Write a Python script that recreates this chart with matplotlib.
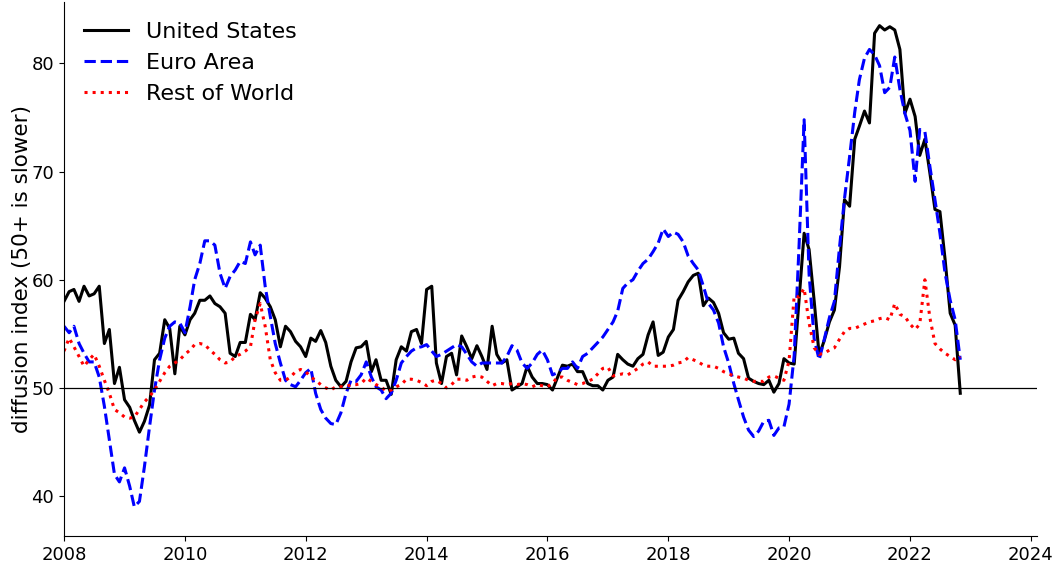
import matplotlib
matplotlib.use("Agg")
import matplotlib.pyplot as plt
import matplotlib.dates as mdates
import pandas as pd
import numpy as np

dates = pd.date_range("2008-01-01", periods=179, freq="MS")

united_states = [
    58.0, 58.9, 59.1, 58.0, 59.4, 58.5, 58.7, 59.4, 54.1, 55.4, 50.4, 51.9,
    48.9, 48.2, 47.0, 45.9, 46.9, 48.4, 52.6, 53.2, 56.3, 55.5, 51.3, 55.7,
    54.9, 56.3, 56.9, 58.1, 58.1, 58.5, 57.8, 57.5, 56.9, 53.2, 52.9, 54.2,
    54.2, 56.8, 56.3, 58.8, 58.3, 57.5, 56.3, 53.8, 55.7, 55.2, 54.3, 53.8,
    52.9, 54.6, 54.3, 55.3, 54.2, 52.0, 50.7, 50.1, 50.6, 52.4, 53.7, 53.8,
    54.3, 51.5, 52.6, 50.7, 50.7, 49.4, 52.6, 53.8, 53.4, 55.2, 55.4, 54.1,
    59.1, 59.4, 52.3, 50.4, 52.9, 53.2, 51.2, 54.8, 53.8, 52.7, 53.9, 52.9,
    51.7, 55.7, 53.1, 52.3, 52.6, 49.8, 50.1, 50.4, 52.0, 51.0, 50.4, 50.4,
    50.3, 49.8, 50.9, 52.1, 52.0, 52.2, 51.5, 51.5, 50.4, 50.2, 50.2, 49.8,
    50.7, 51.0, 53.1, 52.6, 52.2, 52.0, 52.7, 53.1, 54.9, 56.1, 53.0, 53.3,
    54.7, 55.4, 58.1, 58.9, 59.8, 60.4, 60.6, 57.6, 58.3, 57.9, 56.9, 55.1,
    54.5, 54.6, 53.2, 52.7, 50.9, 50.6, 50.4, 50.3, 50.7, 49.6, 50.4, 52.7,
    52.3, 52.2, 58.0, 64.3, 62.8, 58.0, 53.0, 54.4, 56.1, 57.2, 61.2, 67.4,
    66.8, 73.0, 74.2, 75.6, 74.5, 82.8, 83.5, 83.1, 83.4, 83.1, 81.3, 75.4,
    76.7, 75.1, 71.5, 73.0, 69.9, 66.5, 66.3, 61.9, 56.9, 55.8, 49.5,
]

euro_area = [
    55.7, 55.1, 55.7, 54.1, 53.2, 52.4, 52.4, 51.0, 48.3, 45.2, 42.0, 41.3,
    42.6, 40.9, 39.0, 39.5, 42.7, 46.4, 49.8, 52.6, 54.6, 55.7, 56.1, 56.0,
    55.1, 57.5, 60.0, 61.5, 63.6, 63.6, 63.2, 60.6, 59.2, 60.3, 60.9, 61.7,
    61.5, 63.5, 62.3, 63.2, 59.4, 56.6, 54.1, 52.3, 50.7, 50.3, 50.1, 50.7,
    51.4, 51.8, 49.5, 48.0, 47.2, 46.7, 46.6, 47.7, 49.5, 50.7, 50.6, 51.2,
    52.4, 51.0, 50.1, 49.8, 49.0, 49.5, 50.7, 52.3, 52.9, 53.4, 53.7, 53.8,
    54.0, 53.4, 52.9, 53.1, 53.4, 53.7, 54.0, 53.8, 53.1, 52.4, 52.0, 52.3,
    52.3, 52.3, 52.3, 52.3, 52.9, 53.9, 53.5, 52.3, 51.8, 52.3, 53.1, 53.5,
    52.6, 51.2, 51.4, 51.8, 51.8, 52.4, 51.8, 52.9, 53.2, 53.7, 54.2, 54.7,
    55.4, 56.1, 57.1, 59.2, 59.7, 60.0, 60.8, 61.5, 61.9, 62.6, 63.4, 64.7,
    64.0, 64.4, 64.2, 63.5, 62.2, 61.5, 60.9, 59.4, 57.8, 57.2, 56.0, 53.8,
    52.3, 50.4, 48.9, 47.3, 46.1, 45.5, 46.0, 46.9, 47.0, 45.6, 46.3, 46.4,
    48.5, 53.0, 63.0, 74.8, 60.5, 54.5, 52.6, 54.5, 56.5, 58.0, 63.0, 67.5,
    71.4, 75.5, 78.5, 80.5, 81.3, 80.8, 79.8, 77.3, 77.8, 80.6, 77.6, 75.4,
    73.8, 69.1, 73.9, 73.7, 70.5, 67.4, 64.3, 60.6, 58.1, 56.3, 52.6,
]

rest_of_world = [
    53.4, 54.6, 53.8, 52.9, 52.0, 52.6, 53.1, 52.0, 50.7, 49.5, 48.0, 47.7,
    47.3, 47.2, 47.3, 48.0, 48.7, 49.2, 49.8, 50.6, 51.4, 52.0, 52.3, 52.6,
    53.1, 53.5, 54.0, 54.1, 54.0, 53.5, 53.1, 52.6, 52.3, 52.4, 52.9, 53.1,
    53.4, 53.8, 56.3, 57.8, 55.7, 52.6, 51.4, 50.7, 50.7, 51.0, 51.5, 51.7,
    51.5, 51.0, 50.7, 50.3, 50.0, 49.8, 50.1, 50.1, 50.1, 50.3, 50.3, 50.4,
    50.9, 50.6, 50.3, 50.1, 49.7, 49.8, 50.1, 50.3, 50.8, 50.8, 50.7, 50.5,
    50.2, 50.6, 50.7, 50.4, 50.0, 50.3, 50.8, 50.8, 50.7, 51.0, 51.1, 51.0,
    50.6, 50.2, 50.4, 50.4, 50.3, 50.4, 50.3, 50.4, 50.3, 50.1, 50.3, 50.2,
    50.1, 50.4, 51.0, 51.0, 50.7, 50.5, 50.3, 50.4, 50.6, 50.8, 51.3, 51.8,
    51.9, 51.1, 51.2, 51.3, 51.2, 51.5, 51.8, 52.2, 52.4, 52.0, 52.0, 52.0,
    52.0, 52.1, 52.3, 52.4, 52.8, 52.6, 52.4, 52.1, 52.0, 52.0, 51.8, 51.5,
    51.3, 51.1, 51.0, 50.9, 50.7, 50.6, 50.6, 50.6, 51.0, 51.1, 50.9, 50.7,
    52.5, 58.5, 58.4, 59.2, 56.0, 53.7, 53.1, 53.2, 53.5, 53.7, 54.5, 55.2,
    55.5, 55.5, 55.7, 55.9, 56.1, 56.2, 56.4, 56.5, 56.3, 57.8, 56.8, 56.6,
    55.9, 55.4, 55.9, 60.0, 56.5, 54.1, 53.6, 53.2, 52.9, 52.6, 52.9,
]

series_labels = ["United States", "Euro Area", "Rest of World"]

fig = plt.figure(figsize=(10.58, 5.67), dpi=100)
ax = fig.add_axes([0.0605, 0.0547, 0.920, 0.942])

ax.plot(dates, united_states, color="black", lw=2.2, ls="-", label=series_labels[0])
ax.plot(dates, euro_area, color="blue", lw=2.2, ls=(0, (3.7, 1.6)), label=series_labels[1])
ax.plot(dates, rest_of_world, color="red", lw=2.2, ls=(0, (1, 1.65)), label=series_labels[2])
ax.axhline(50, color="black", lw=0.9)

ax.set_xlim(pd.Timestamp("2008-01-01"), pd.Timestamp("2024-02-10"))
ax.set_ylim(36.3, 85.7)
ax.set_yticks([40, 50, 60, 70, 80])
ax.xaxis.set_major_locator(mdates.YearLocator(2))
ax.xaxis.set_major_formatter(mdates.DateFormatter("%Y"))
ax.tick_params(labelsize=13)
ax.set_ylabel("diffusion index (50+ is slower)", fontsize=15.5)
ax.yaxis.set_label_coords(-0.033, 0.5)
for s in ["top", "right"]:
    ax.spines[s].set_visible(False)

ax.legend(loc="upper left", frameon=False, fontsize=16, handlelength=2.0,
          borderaxespad=0.5)

fig.savefig("out.png", dpi=100)
